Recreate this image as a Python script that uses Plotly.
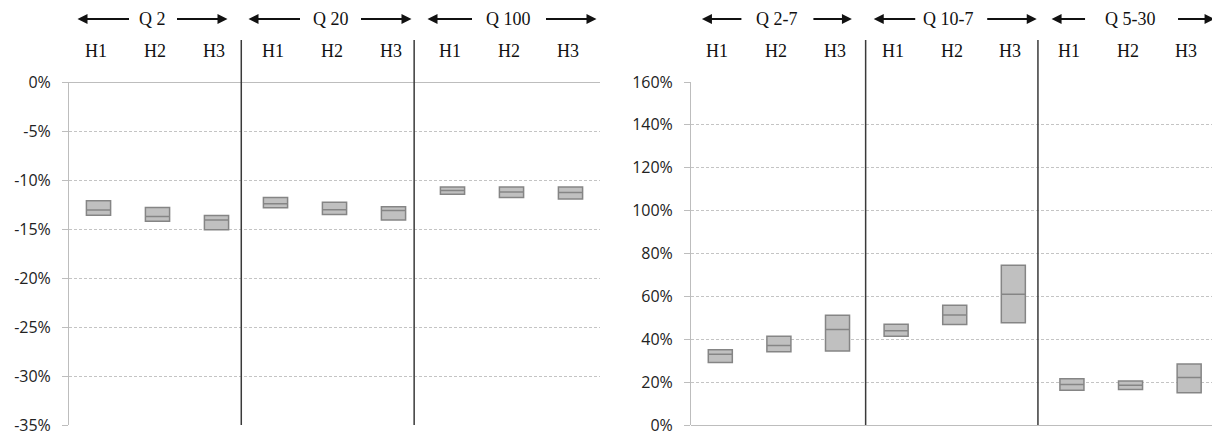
import plotly.graph_objects as go

# ---------------- data ----------------
h_labels = ["H1", "H2", "H3"]
left_groups = ["Q 2", "Q 20", "Q 100"]
right_groups = ["Q 2-7", "Q 10-7", "Q 5-30"]

# values in percent
left_q1 = [-13.6, -14.22, -15.07, -12.84, -13.51, -14.09, -11.45, -11.79, -11.93]
left_med = [-13.07, -13.72, -14.09, -12.43, -13.04, -13.11, -11.08, -11.22, -11.28]
left_q3 = [-12.13, -12.8, -13.61, -11.79, -12.26, -12.74, -10.71, -10.71, -10.71]

right_q1 = [29.1, 34.2, 34.5, 41.4, 46.9, 47.7, 16.2, 16.6, 15.0]
right_med = [32.95, 37.1, 44.6, 44.0, 51.3, 61.0, 18.9, 18.5, 22.1]
right_q3 = [35.1, 41.4, 51.2, 47.0, 55.9, 74.5, 21.6, 20.5, 28.5]

left_ticks = [0, -5, -10, -15, -20, -25, -30, -35]
left_tick_labels = ["0%", "-5%", "-10%", "-15%", "-20%", "-25%", "-30%", "-35%"]
right_ticks = [0, 20, 40, 60, 80, 100, 120, 140, 160]
right_tick_labels = ["0%", "20%", "40%", "60%", "80%", "100%", "120%", "140%", "160%"]

# ---------------- style ----------------
W, H = 1212, 437
TOP, BOT = 82, 12
FILL = "#c0c0c0"
EDGE = "#858585"
SERIF = "Liberation Serif, Times New Roman, serif"
SANS = "Open Sans, Liberation Sans, sans-serif"

positions = list(range(9))
cat_labels = [h for _ in range(3) for h in h_labels]

fig = go.Figure()


def add_box(vals_q1, vals_med, vals_q3, xa, ya):
    fig.add_trace(go.Box(
        x=positions,
        q1=[v / 100 for v in vals_q1],
        median=[v / 100 for v in vals_med],
        q3=[v / 100 for v in vals_q3],
        lowerfence=[v / 100 for v in vals_q1],
        upperfence=[v / 100 for v in vals_q3],
        width=0.41,
        whiskerwidth=0,
        fillcolor=FILL,
        line=dict(color=EDGE, width=1.5),
        xaxis=xa, yaxis=ya,
        showlegend=False,
        hoverinfo="skip",
    ))


add_box(left_q1, left_med, left_q3, "x", "y")
add_box(right_q1, right_med, right_q3, "x2", "y2")

axis_common = dict(
    showgrid=False, zeroline=False, showline=False, showticklabels=False,
    ticks="", fixedrange=True,
)
yaxis_common = dict(
    showgrid=True, gridcolor="#c4c4c4", griddash="3px,2px", gridwidth=1,
    zeroline=True, zerolinecolor="#bdbdbd", zerolinewidth=1,
    showline=True, linecolor="#bdbdbd", linewidth=1,
    ticks="outside", ticklen=6, tickcolor="#bdbdbd",
    tickfont=dict(family=SANS, size=16, color="#222222"),
    ticklabelstandoff=8, automargin=False, ticklabeloverflow="allow",
    fixedrange=True,
)

fig.update_layout(
    width=W, height=H,
    margin=dict(l=0, r=0, t=TOP, b=BOT, autoexpand=False),
    paper_bgcolor="white", plot_bgcolor="white",
    xaxis=dict(domain=[69 / W, 600 / W], range=[-0.5, 8.5], **axis_common),
    xaxis2=dict(domain=[691 / W, 1.0], range=[-0.5, 8.39], anchor="y2", **axis_common),
    yaxis=dict(range=[-0.35, 0], tickvals=[v / 100 for v in left_ticks],
               ticktext=left_tick_labels, anchor="x", **yaxis_common),
    yaxis2=dict(range=[0, 1.6], tickvals=[v / 100 for v in right_ticks],
                ticktext=right_tick_labels, anchor="x2", **yaxis_common),
)

plot_h = H - TOP - BOT
div_top = 1 + 42 / plot_h

# dividers between groups
for xref, divs in (("x", [2.42, 5.35]), ("x2", [2.48, 5.42])):
    for d in divs:
        fig.add_shape(type="line", xref=xref, yref="paper", x0=d, x1=d, y0=0, y1=div_top,
                      line=dict(color="#3a3a3a", width=1.5))

# H labels
for xref in ("x", "x2"):
    for p, lab in zip(positions, cat_labels):
        fig.add_annotation(x=p, y=1, xref=xref, yref="paper", text=lab, showarrow=False,
                           yanchor="middle", yshift=31, xshift=-3,
                           font=dict(family=SERIF, size=18, color="#111111"))

# group headers with arrows: (label, xref, center x, text shift, left arrow px span, right arrow px span)
headers = [
    (left_groups[0], "x", 1, -5, (-75, -22), (23, 75)),
    (left_groups[1], "x", 4, -4, (-82, -29), (29, 81)),
    (left_groups[2], "x", 7, -3, (-81, -35), (36, 88)),
    (right_groups[0], "x2", 1, -2, (-75, -34), (35, 75)),
    (right_groups[1], "x2", 4, -6, (-75, -32), (37, 88)),
    (right_groups[2], "x2", 7, 0, (-79, -44), (46, 84)),
]
for lab, xref, cx, shift, la, ra in headers:
    fig.add_annotation(x=cx, y=1, xref=xref, yref="paper", text=lab, showarrow=False,
                       yanchor="middle", yshift=63, xshift=shift,
                       font=dict(family=SERIF, size=18, color="#111111"))
    # left-pointing arrow: head at la[0], tail at la[1]
    fig.add_annotation(x=cx, y=1, xref=xref, yref="paper", text="", showarrow=True,
                       xshift=shift + la[0], yshift=63, ax=la[1] - la[0], ay=0,
                       arrowhead=2, arrowsize=1, arrowwidth=2, arrowcolor="#111111")
    # right-pointing arrow
    fig.add_annotation(x=cx, y=1, xref=xref, yref="paper", text="", showarrow=True,
                       xshift=shift + ra[1], yshift=63, ax=ra[0] - ra[1], ay=0,
                       arrowhead=2, arrowsize=1, arrowwidth=2, arrowcolor="#111111")

fig.write_html(
    "out.html",
    config={"displayModeBar": False, "staticPlot": True},
    post_script="document.body.style.margin='0px';document.body.style.overflow='hidden';",
)
